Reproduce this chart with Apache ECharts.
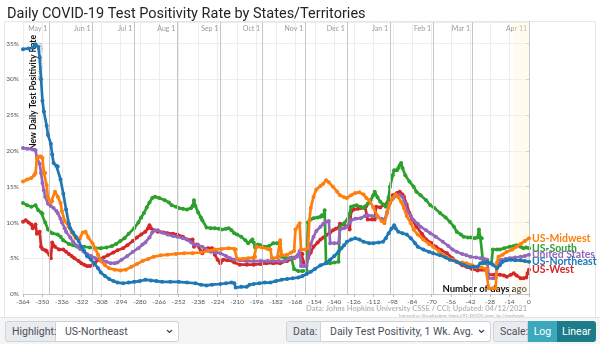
<!DOCTYPE html>
<html><head><meta charset="utf-8">
<script src="https://cdn.jsdelivr.net/npm/echarts@6/dist/echarts.min.js"></script>
<style>
html,body{margin:0;padding:0;background:#fff;width:600px;height:344px;overflow:hidden;font-family:Roboto,Arial,sans-serif;}
#frame{position:absolute;left:4px;top:21px;width:592px;height:297px;border:1px solid #e6e6e6;box-sizing:border-box;}
#chart{position:absolute;left:0;top:0;width:600px;height:344px;}
#ctrl{position:absolute;left:0;top:317px;width:600px;height:27px;background:#f5f5f5;border-top:1px solid #e3e3e3;}
.grp{position:absolute;top:3px;height:21px;display:flex;font-size:10.5px;color:#495057;}
.lab{background:#e9ecef;border:1px solid #ced4da;border-radius:3px 0 0 3px;padding:0 6px;display:flex;align-items:center;box-sizing:border-box;}
.sel{background:#fff;border:1px solid #ced4da;border-left:none;border-radius:0 3px 3px 0;display:flex;align-items:center;justify-content:space-between;padding:0 5px 0 9px;box-sizing:border-box;}
.btn{display:flex;align-items:center;justify-content:center;color:#fff;box-sizing:border-box;}
</style></head>
<body>
<div id="frame"></div>
<div id="chart"></div>
<div id="ctrl">
 <div class="grp" style="left:5px;width:174px;"><div class="lab" style="width:51px;">Highlight:</div><div class="sel" style="width:123px;"><span>US-Northeast</span><svg width="7" height="5" viewBox="0 0 7 5"><polyline points="1,1 3.5,3.5 6,1" fill="none" stroke="#444" stroke-width="1.2"/></svg></div></div>
 <div class="grp" style="left:286px;width:205px;"><div class="lab" style="width:35px;">Data:</div><div class="sel" style="width:170px;"><span>Daily Test Positivity, 1 Wk. Avg.</span><svg width="7" height="5" viewBox="0 0 7 5"><polyline points="1,1 3.5,3.5 6,1" fill="none" stroke="#444" stroke-width="1.2"/></svg></div></div>
 <div class="grp" style="left:493px;width:103px;"><div class="lab" style="width:35px;">Scale:</div><div class="btn" style="width:29px;background:#3aa9bd;">Log</div><div class="btn" style="width:39px;background:#1c7c8a;border-radius:0 3px 3px 0;">Linear</div></div>
</div>
<script>
const monthTicks = [-345,-314,-284,-253,-222,-192,-161,-131,-100,-69,-41,0];
const monthNames = ['May 1','Jun 1','Jul 1','Aug 1','Sep 1','Oct 1','Nov 1','Dec 1','Jan 1','Feb 1','Mar 1','Apr 11'];

const northeast = [[-364,34.2],[-360,34.3],[-357,34.4],[-355,34.9],[-353,34.5],[-352,33.0],[-351,30.0],[-350,27.0],[-349,25.5],[-347,23.5],[-346,22.2],[-344,21.0],[-343,19.5],[-342,18.3],[-340,17.9],[-339,17.8],[-337,16.0],[-335,14.0],[-333,11.8],[-331,9.8],[-330,9.2],[-328,8.6],[-326,8.0],[-324,7.4],[-322,6.6],[-320,6.0],[-318,5.3],[-315,4.8],[-313,4.3],[-310,3.6],[-308,3.0],[-305,2.5],[-302,2.1],[-299,1.8],[-296,1.6],[-292,1.5],[-288,1.6],[-284,1.7],[-280,1.8],[-276,2.0],[-272,1.9],[-268,1.8],[-264,1.7],[-258,1.7],[-252,1.7],[-246,1.6],[-240,1.5],[-236,1.3],[-232,1.2],[-228,1.3],[-222,1.4],[-218,1.5],[-214,1.6],[-212,1.5],[-211,0.9],[-207,1.0],[-203,1.0],[-201,1.3],[-198,1.4],[-194,1.5],[-190,1.6],[-186,1.6],[-182,1.8],[-178,2.0],[-174,2.1],[-170,2.2],[-166,2.3],[-163,2.5],[-160,2.8],[-157,3.1],[-154,3.5],[-150,4.0],[-146,4.3],[-143,4.8],[-140,5.3],[-137,5.9],[-135,6.4],[-133,6.8],[-131,7.3],[-128,7.6],[-125,7.8],[-122,7.6],[-119,7.3],[-115,7.1],[-112,7.1],[-108,7.2],[-105,7.3],[-103,7.8],[-101,8.5],[-99,9.1],[-97,9.6],[-96,9.2],[-94,8.7],[-91,8.5],[-88,8.3],[-85,7.8],[-82,7.1],[-80,6.6],[-76,6.2],[-72,5.9],[-69,5.7],[-64,5.4],[-60,5.1],[-57,4.8],[-52,4.5],[-47,4.1],[-44,3.8],[-40,3.8],[-37,3.8],[-35,4.3],[-32,4.4],[-30,4.5],[-28,4.3],[-26,4.1],[-23,3.6],[-21,4.0],[-19,4.5],[-16,4.7],[-13,4.8],[-10,4.7],[-6,4.7],[-3,4.6],[0,4.5]];

const midwest = [[-364,15.7],[-361,16.0],[-358,16.2],[-356,16.6],[-355,16.9],[-354,19.0],[-352,19.2],[-351,19.2],[-350,19.0],[-349,17.0],[-348,16.9],[-347,15.2],[-346,13.4],[-344,12.8],[-343,13.0],[-341,14.3],[-339,13.6],[-337,12.7],[-336,11.6],[-334,10.2],[-331,9.4],[-329,8.6],[-326,7.8],[-323,7.8],[-321,8.6],[-319,8.7],[-317,7.9],[-314,7.1],[-312,6.3],[-310,5.5],[-308,4.6],[-305,4.0],[-302,3.6],[-298,3.4],[-294,3.3],[-290,3.4],[-286,3.8],[-282,4.2],[-278,4.6],[-274,4.9],[-270,5.2],[-265,5.4],[-260,5.5],[-254,5.6],[-248,5.7],[-242,5.7],[-236,5.8],[-231,6.0],[-226,6.2],[-221,6.3],[-216,6.4],[-212,6.3],[-211,6.2],[-210,4.9],[-206,4.9],[-202,5.0],[-198,5.1],[-197,5.2],[-196,6.6],[-192,6.5],[-188,6.3],[-186,6.2],[-185,5.0],[-181,5.1],[-180,5.2],[-179,7.5],[-178,5.4],[-174,5.5],[-171,5.8],[-169,6.0],[-168,9.0],[-166,9.5],[-165,9.9],[-164,6.2],[-161,6.2],[-159,6.4],[-158,10.3],[-157,12.0],[-155,13.6],[-153,14.6],[-150,15.1],[-148,15.4],[-146,15.9],[-144,15.6],[-141,15.0],[-138,14.3],[-136,13.8],[-133,13.5],[-131,13.4],[-128,13.8],[-125,14.1],[-122,14.2],[-119,13.9],[-117,13.4],[-115,13.1],[-112,12.1],[-109,10.9],[-106,10.2],[-104,9.9],[-102,11.3],[-100,12.7],[-98,13.4],[-96,13.9],[-94,13.5],[-92,12.9],[-90,12.0],[-88,10.9],[-85,9.9],[-83,9.0],[-80,8.3],[-76,7.6],[-72,7.0],[-69,6.6],[-65,6.0],[-62,5.5],[-58,5.0],[-55,4.8],[-52,4.5],[-48,4.4],[-45,4.3],[-41,4.0],[-37,3.8],[-34,3.7],[-31,3.5],[-30,3.4],[-29,0.8],[-26,0.8],[-24,0.8],[-23,4.4],[-22,5.2],[-19,5.5],[-16,5.9],[-12,6.2],[-9,6.6],[-6,7.0],[-3,7.4],[0,7.8]];

const south = [[-364,12.7],[-361,12.4],[-358,12.2],[-355,12.4],[-353,11.7],[-351,11.4],[-350,11.2],[-348,10.0],[-346,9.0],[-343,8.5],[-339,8.3],[-337,8.0],[-335,7.5],[-331,7.0],[-328,6.8],[-325,6.6],[-320,6.6],[-316,6.5],[-312,6.4],[-308,6.4],[-304,6.5],[-300,6.7],[-297,7.0],[-294,7.4],[-291,7.8],[-288,8.4],[-284,9.2],[-281,10.0],[-279,10.7],[-277,11.3],[-275,12.1],[-273,12.8],[-271,13.4],[-269,13.6],[-266,13.4],[-262,13.1],[-259,12.8],[-257,12.4],[-254,12.2],[-252,12.0],[-249,11.9],[-246,11.8],[-243,12.0],[-242,12.3],[-241,13.1],[-240,12.3],[-238,11.4],[-236,10.7],[-235,10.3],[-232,9.3],[-229,9.2],[-226,9.2],[-223,9.1],[-221,9.0],[-218,9.1],[-216,9.2],[-214,8.9],[-212,8.5],[-210,8.3],[-207,8.0],[-204,7.5],[-202,7.1],[-200,7.4],[-199,7.6],[-198,7.2],[-197,6.5],[-195,6.9],[-193,6.8],[-190,6.6],[-187,6.7],[-184,7.1],[-181,7.1],[-179,7.0],[-178,5.2],[-175,5.0],[-171,5.1],[-170,5.0],[-169,3.5],[-166,3.2],[-163,3.2],[-160,3.3],[-159,10.0],[-157,10.4],[-155,10.6],[-152,10.7],[-150,10.8],[-149,11.0],[-148,10.9],[-147,11.7],[-146,4.3],[-143,4.3],[-140,4.4],[-137,4.5],[-136,9.4],[-133,9.9],[-131,10.3],[-129,11.2],[-128,12.2],[-126,12.3],[-124,12.4],[-121,12.2],[-119,12.0],[-116,12.6],[-114,13.1],[-112,13.8],[-111,14.3],[-109,13.5],[-107,12.9],[-105,12.5],[-103,12.2],[-101,13.5],[-100,15.0],[-98,16.6],[-97,17.3],[-95,17.3],[-94,17.6],[-93,18.0],[-92,18.3],[-91,17.6],[-89,16.6],[-86,15.7],[-83,15.0],[-81,14.3],[-78,13.8],[-74,13.1],[-71,12.4],[-68,12.0],[-64,11.3],[-60,10.7],[-57,10.1],[-54,9.4],[-52,8.7],[-49,8.3],[-47,8.0],[-44,7.9],[-42,7.9],[-39,7.8],[-37,7.9],[-36,9.0],[-35,7.9],[-34,7.8],[-33,4.3],[-30,4.2],[-27,4.3],[-26,6.2],[-23,6.2],[-21,6.2],[-18,6.4],[-14,6.6],[-11,6.7],[-9,6.8],[-6,6.6],[-4,6.4],[-2,6.5],[0,6.4]];

const unitedStates = [[-364,20.4],[-361,20.3],[-357,20.2],[-355,20.1],[-354,19.0],[-352,18.2],[-351,16.9],[-350,15.5],[-349,14.5],[-348,13.6],[-346,12.6],[-344,12.3],[-342,12.0],[-340,11.6],[-339,11.3],[-337,10.5],[-336,10.0],[-334,9.2],[-333,8.7],[-330,7.9],[-328,7.3],[-325,6.7],[-323,6.3],[-320,5.9],[-318,5.6],[-315,5.3],[-312,5.0],[-309,4.8],[-307,4.7],[-304,4.5],[-301,4.3],[-298,4.3],[-296,4.4],[-293,4.8],[-289,5.3],[-285,5.9],[-281,6.4],[-278,6.9],[-276,7.2],[-273,7.9],[-271,8.6],[-269,8.9],[-267,8.9],[-264,8.6],[-260,8.3],[-256,8.1],[-253,8.0],[-249,7.8],[-246,7.6],[-243,7.2],[-241,6.9],[-238,6.8],[-235,6.6],[-232,6.2],[-229,5.9],[-225,5.8],[-222,5.7],[-218,5.3],[-215,5.0],[-212,4.8],[-208,4.7],[-203,4.6],[-198,4.6],[-193,4.6],[-188,4.6],[-184,4.6],[-180,4.6],[-176,4.6],[-172,5.0],[-169,5.1],[-167,5.2],[-165,6.0],[-164,3.9],[-162,3.9],[-160,3.9],[-158,6.0],[-157,7.0],[-155,8.0],[-153,8.8],[-150,9.4],[-148,9.8],[-146,10.1],[-144,10.2],[-143,7.1],[-140,7.1],[-137,7.1],[-136,9.0],[-133,9.2],[-131,9.4],[-129,10.0],[-128,10.3],[-125,10.5],[-121,10.6],[-118,10.9],[-116,11.0],[-113,10.9],[-109,10.8],[-106,10.5],[-104,10.3],[-102,11.5],[-100,12.7],[-98,13.3],[-95,13.8],[-93,13.8],[-91,13.6],[-89,12.6],[-88,11.7],[-85,10.9],[-83,10.3],[-80,9.8],[-78,9.4],[-74,8.9],[-71,8.5],[-67,8.0],[-62,7.3],[-58,6.7],[-55,6.2],[-52,5.9],[-48,5.6],[-45,5.4],[-42,5.2],[-38,5.1],[-35,5.0],[-32,4.9],[-30,4.8],[-29,2.2],[-26,2.2],[-24,2.2],[-23,4.0],[-21,4.6],[-20,4.8],[-17,4.9],[-14,5.0],[-10,5.1],[-6,5.2],[-3,5.3],[0,5.5]];

const west = [[-364,10.1],[-362,10.3],[-360,10.0],[-358,9.7],[-357,9.2],[-355,9.7],[-354,8.4],[-352,8.7],[-351,6.6],[-350,6.3],[-348,6.1],[-347,6.0],[-345,5.5],[-344,5.0],[-343,7.2],[-341,6.6],[-338,6.2],[-335,6.2],[-333,5.9],[-331,5.6],[-329,5.3],[-327,5.0],[-324,4.6],[-322,4.3],[-320,4.1],[-318,3.9],[-316,3.9],[-314,4.0],[-312,4.4],[-310,4.8],[-306,5.1],[-303,5.4],[-299,5.8],[-296,6.1],[-292,6.4],[-289,6.8],[-285,7.4],[-282,7.9],[-279,8.3],[-276,8.7],[-274,9.2],[-273,9.6],[-272,9.2],[-270,8.9],[-267,8.7],[-263,8.6],[-260,8.5],[-256,8.4],[-253,8.3],[-249,8.0],[-246,7.6],[-242,7.6],[-241,6.6],[-239,6.9],[-238,6.8],[-236,6.0],[-235,5.7],[-233,6.3],[-231,6.4],[-228,6.4],[-227,6.0],[-226,5.5],[-224,4.8],[-222,4.3],[-220,4.8],[-217,4.7],[-215,4.7],[-212,4.4],[-208,4.1],[-203,4.1],[-198,4.1],[-193,4.2],[-189,4.3],[-184,4.3],[-179,4.3],[-174,4.6],[-169,5.0],[-166,5.5],[-164,5.7],[-163,5.6],[-162,4.4],[-160,4.5],[-159,5.0],[-157,5.8],[-155,6.6],[-152,7.2],[-150,7.6],[-148,7.9],[-146,8.2],[-143,8.6],[-141,8.9],[-139,9.1],[-137,9.3],[-136,9.8],[-133,9.7],[-131,9.4],[-129,9.0],[-128,11.5],[-126,11.8],[-123,11.9],[-121,12.0],[-118,12.2],[-117,12.3],[-116,10.4],[-113,10.4],[-111,10.4],[-110,12.2],[-107,12.1],[-105,12.4],[-102,12.7],[-100,13.3],[-98,13.8],[-95,14.1],[-93,14.3],[-91,13.9],[-90,13.6],[-88,12.5],[-86,11.3],[-84,10.4],[-81,9.4],[-77,8.4],[-74,7.6],[-70,7.1],[-67,6.6],[-63,6.1],[-59,5.7],[-55,5.0],[-52,4.5],[-48,4.0],[-45,3.8],[-41,3.5],[-37,3.3],[-34,3.4],[-32,3.4],[-30,3.3],[-29,2.7],[-25,2.7],[-21,2.7],[-18,2.6],[-16,2.4],[-13,2.7],[-11,2.9],[-9,2.6],[-6,2.2],[-4,2.2],[-2,2.3],[-1,2.9],[0,3.4]];

const seriesDefs = [
  {name:'US-West', data:west, color:'#d62728'},
  {name:'US-South', data:south, color:'#2ca02c'},
  {name:'United States', data:unitedStates, color:'#9467bd'},
  {name:'US-Midwest', data:midwest, color:'#ff7f0e'},
  {name:'US-Northeast', data:northeast, color:'#1f77b4'}
];

const FONT = 'Lato, "Open Sans", sans-serif';
const chart = echarts.init(document.getElementById('chart'), null, {renderer:'canvas'});

const series = seriesDefs.map((s, i) => ({
  type:'line', name:s.name, data:s.data, xAxisIndex:0, yAxisIndex:0,
  symbol:'circle', symbolSize:4, showSymbol:true,
  lineStyle:{width:2.7, color:s.color}, itemStyle:{color:s.color},
  z: 3 + i, silent:true, animation:false,
  emphasis:{disabled:true},
  endLabel:{show:true, formatter:s.name, color:s.color, fontWeight:'bold', fontSize:10.5, fontFamily:FONT, distance:3}
}));
series.unshift({
  type:'line', data:[], xAxisIndex:0, yAxisIndex:0, silent:true, z:1, animation:false,
  markLine:{silent:true, symbol:['none','none'], label:{show:false}, animation:false,
    lineStyle:{color:'#c6c6c6', width:1, type:'solid'},
    data: monthTicks.map(d => ({xAxis:d}))},
  markArea:{silent:true, itemStyle:{color:'rgba(255,248,215,0.4)'},
    data:[[{xAxis:-11},{xAxis:0}]]}
});

chart.setOption({
  animation:false,
  title:{text:'Daily COVID-19 Test Positivity Rate by States/Territories', left:2, top:2,
    textStyle:{fontFamily:'Roboto, sans-serif', fontWeight:'normal', fontSize:14.5, color:'#212529'}},
  grid:{left:23, right:71, top:22, bottom:50},
  xAxis:[{
    type:'value', min:-364, max:0, interval:14, position:'bottom',
    axisLine:{show:true, lineStyle:{color:'#c8c8c8'}},
    axisTick:{show:true, length:3, lineStyle:{color:'#bbb'}},
    axisLabel:{fontSize:6.5, color:'#555', margin:4, fontFamily:FONT},
    splitLine:{show:true, lineStyle:{color:'#ededed'}}
  },{
    type:'value', min:-364, max:0, position:'top',
    axisLine:{show:false}, axisTick:{show:false}, splitLine:{show:false},
    axisLabel:{inside:true, customValues:monthTicks, margin:3, fontSize:7, color:'#9a9a9a', fontFamily:FONT,
      align:'right', verticalAlign:'top', padding:[0,2,0,0], hideOverlap:false,
      formatter: v => monthNames[monthTicks.indexOf(v)] || ''}
  }],
  yAxis:{
    type:'value', min:0, max:38, interval:5,
    axisLine:{show:true, lineStyle:{color:'#c8c8c8'}},
    axisTick:{show:true, length:3, lineStyle:{color:'#bbb'}},
    axisLabel:{formatter:'{value}%', fontSize:6.5, color:'#555', margin:4, fontFamily:FONT, showMaxLabel:false},
    splitLine:{show:true, lineStyle:{color:'#ededed'}}
  },
  graphic:[
    {type:'text', x:33, y:150, rotation:Math.PI/2, z:1,
      style:{text:'New Daily Test Positivity Rate', font:'bold 8.6px '+FONT, fill:'#111', align:'left', verticalAlign:'middle'}},
    {type:'text', x:40, y:43, rotation:Math.PI/2, z:1,
      style:{text:'(7-day Average)', font:'5.5px '+FONT, fill:'#999', align:'right', verticalAlign:'middle'}},
    {type:'text', x:527, y:289, z:1,
      style:{text:'Number of days ago', font:'bold 9.5px '+FONT, fill:'#111', align:'right', verticalAlign:'middle'}},
    {type:'text', x:527, y:309,
      style:{text:'Data: Johns Hopkins University CSSE / CCI; Updated: 04/12/2021', font:'bold 7.5px '+FONT, fill:'#b8b8b8', align:'right', verticalAlign:'middle'}},
    {type:'text', x:527, y:315.5,
      style:{text:'Interactive Visualization: https://91-DIVOC.com/ by @profwade_', font:'4.5px '+FONT, fill:'#aaa', align:'right', verticalAlign:'middle'}}
  ],
  series: series
});
</script>
</body></html>
